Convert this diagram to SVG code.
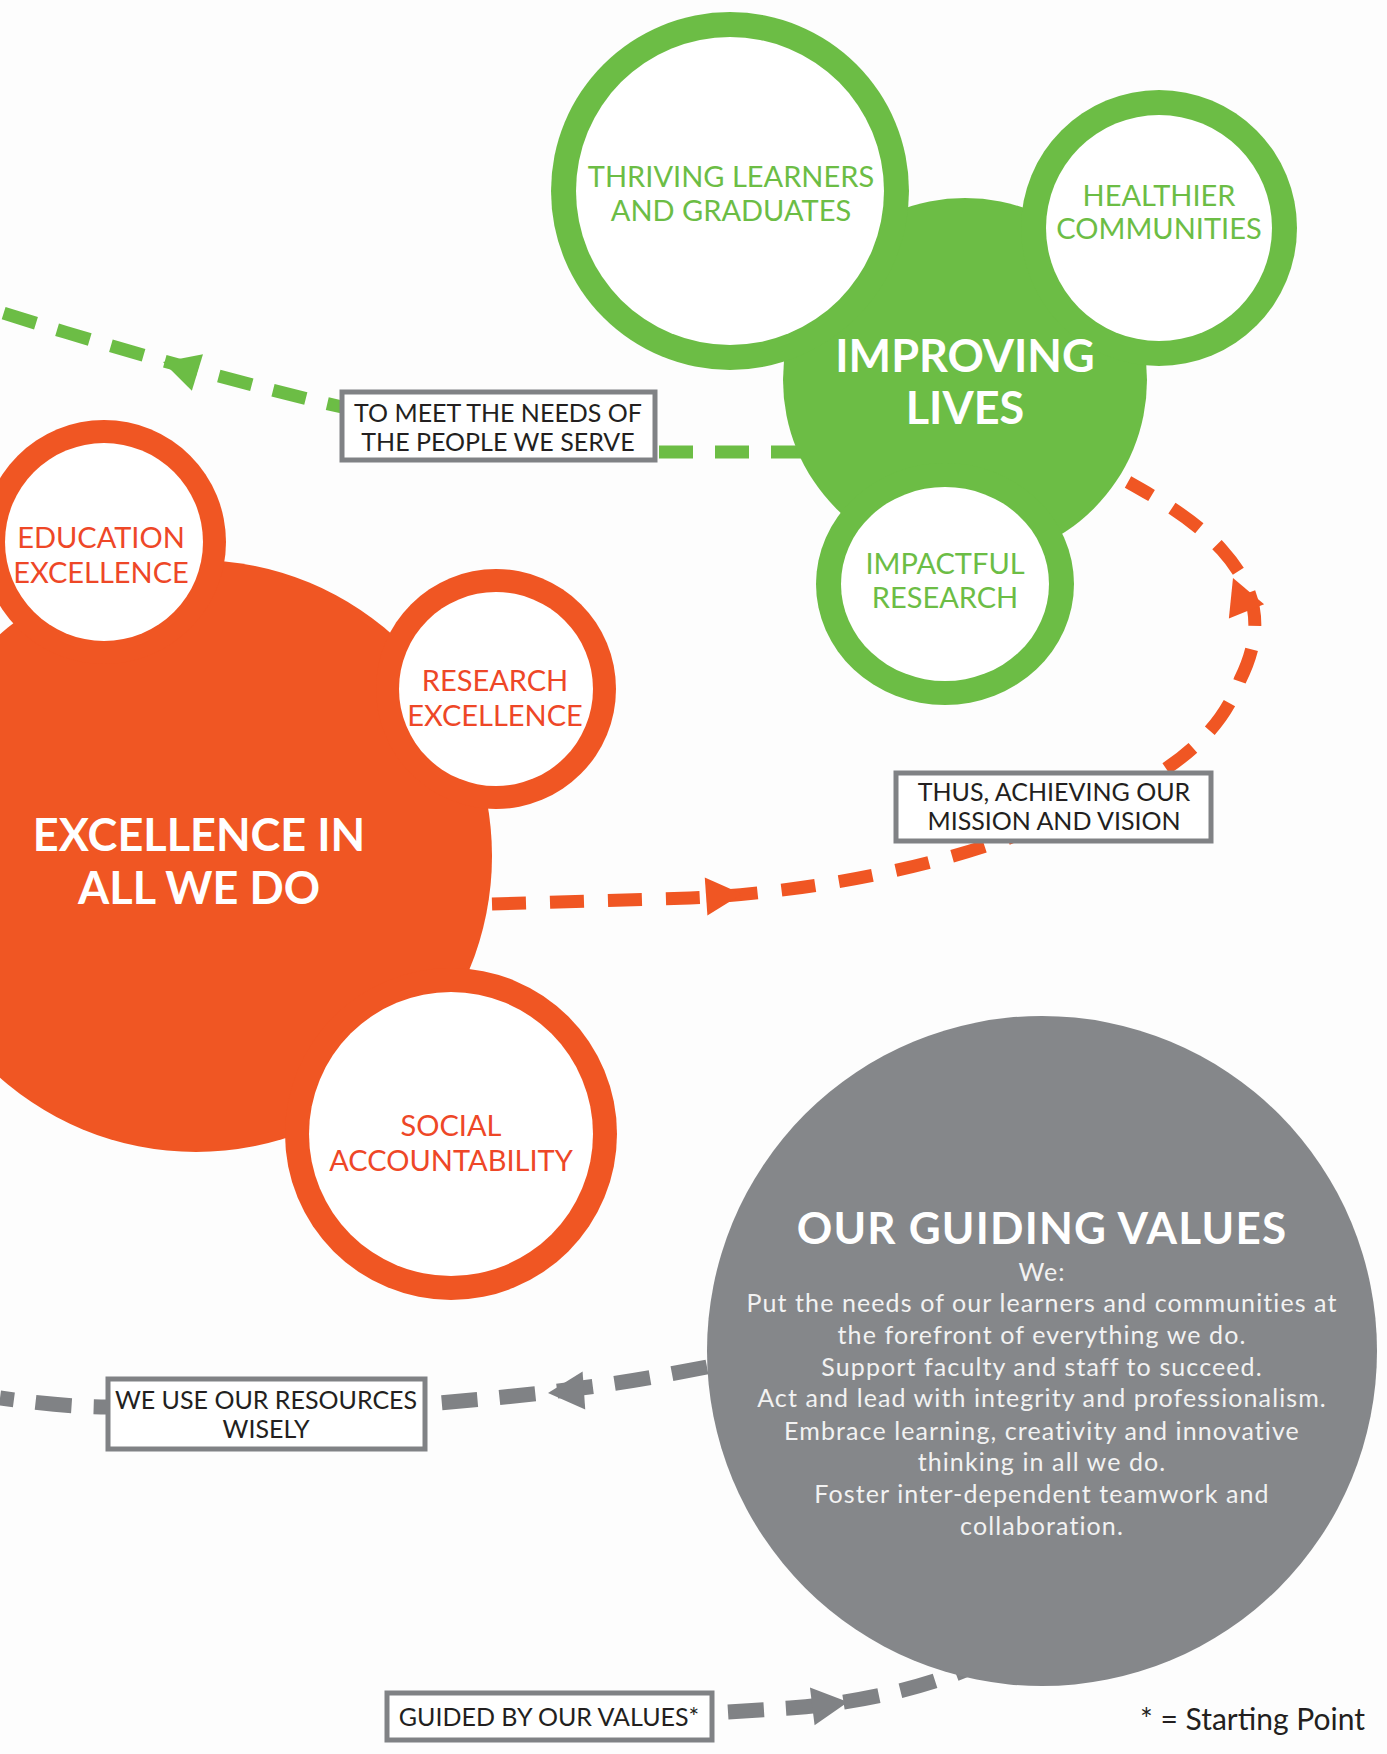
<svg xmlns="http://www.w3.org/2000/svg" xmlns:xlink="http://www.w3.org/1999/xlink" width="1387" height="1754" viewBox="0 0 1387 1754">
  <style>
    text { font-family: Lato, "Open Sans", "Liberation Sans", sans-serif; text-anchor: middle; }
    .gtxt { fill: #6cbd45; font-size: 29px; }
    .otxt { fill: #ee4727; font-size: 29px; }
    .big { fill: #ffffff; font-size: 45px; font-weight: 700; }
    .lbl { fill: #231f20; font-size: 25px; }
    .val { fill: #f2f2f2; font-size: 25px; letter-spacing: 1.1px; }
    .box { fill: #ffffff; stroke: #808285; stroke-width: 5; }
    .dash-g { fill: none; stroke: #6cbd45; stroke-width: 13; stroke-dasharray: 34 22; }
    .dash-o { fill: none; stroke: #f05623; stroke-width: 13; stroke-dasharray: 34 24; }
    .dash-k { fill: none; stroke: #808285; stroke-width: 15; stroke-dasharray: 36 22; }
  </style>
  <defs>
    <polygon id="ah" points="0,0 -36,-19 -36,19"/>
  </defs>
  <rect width="1387" height="1754" fill="#fdfdfd"/>

  <g id="connectors">
    <path class="dash-g" d="M 805 452 L 655 452 C 560 452 430 428 342 407 C 250 386 120 350 0 312"/>
    <use xlink:href="#ah" fill="#6cbd45" transform="translate(163,362) rotate(197)"/>
    <path class="dash-o" d="M 492 904 L 690 898 C 800 893 930 870 1030 830 C 1140 795 1215 750 1240 680 C 1265 630 1258 590 1222 550 C 1195 520 1160 500 1128 482"/>
    <use xlink:href="#ah" fill="#f05623" transform="translate(742,894) rotate(-4)"/>
    <use xlink:href="#ah" fill="#f05623" transform="translate(1233,578) rotate(-112)"/>
    <path class="dash-k" d="M 707 1367 C 650 1378 580 1392 425 1404 L 108 1407 C 70 1407 30 1402 0 1398"/>
    <use xlink:href="#ah" fill="#808285" transform="translate(548,1393) rotate(176)"/>
    <path class="dash-k" d="M 728 1712 L 790 1708 C 850 1704 920 1690 975 1666"/>
    <use xlink:href="#ah" fill="#808285" transform="translate(848,1702) rotate(-7)"/>
  </g>

  <g id="improving-lives">
    <circle cx="965" cy="380" r="182" fill="#6cbd45"/>
    <circle cx="730" cy="191" r="179" fill="#6cbd45"/>
    <circle cx="1159" cy="228" r="138" fill="#6cbd45"/>
    <ellipse cx="945" cy="584" rx="129" ry="121" fill="#6cbd45"/>
    <text class="big" x="965" y="372">IMPROVING</text>
    <text class="big" x="965" y="424">LIVES</text>
  </g>
  <g id="thriving-learners">
    <circle cx="730" cy="191" r="154" fill="#ffffff"/>
    <text class="gtxt" x="731" y="187">THRIVING LEARNERS</text>
    <text class="gtxt" x="731" y="221">AND GRADUATES</text>
  </g>
  <g id="healthier-communities">
    <circle cx="1159" cy="228" r="113" fill="#ffffff"/>
    <text class="gtxt" x="1159" y="206">HEALTHIER</text>
    <text class="gtxt" x="1159" y="239">COMMUNITIES</text>
  </g>
  <g id="impactful-research">
    <ellipse cx="945" cy="584" rx="104" ry="97" fill="#ffffff"/>
    <text class="gtxt" x="945" y="574">IMPACTFUL</text>
    <text class="gtxt" x="945" y="608">RESEARCH</text>
  </g>

  <g id="excellence">
    <circle cx="196" cy="856" r="296" fill="#f05623"/>
    <circle cx="104" cy="542" r="122" fill="#f05623"/>
    <circle cx="496" cy="689" r="120" fill="#f05623"/>
    <circle cx="451" cy="1134" r="166" fill="#f05623"/>
    <text class="big" x="199" y="851">EXCELLENCE IN</text>
    <text class="big" x="199" y="904">ALL WE DO</text>
  </g>
  <g id="education-excellence">
    <circle cx="104" cy="542" r="99" fill="#ffffff"/>
    <text class="otxt" x="101" y="548">EDUCATION</text>
    <text class="otxt" x="101" y="583">EXCELLENCE</text>
  </g>
  <g id="research-excellence">
    <circle cx="496" cy="689" r="97" fill="#ffffff"/>
    <text class="otxt" x="495" y="691">RESEARCH</text>
    <text class="otxt" x="495" y="726">EXCELLENCE</text>
  </g>
  <g id="social-accountability">
    <circle cx="451" cy="1134" r="142" fill="#ffffff"/>
    <text class="otxt" x="451" y="1136">SOCIAL</text>
    <text class="otxt" x="451" y="1171">ACCOUNTABILITY</text>
  </g>

  <g id="guiding-values">
    <circle cx="1042" cy="1351" r="335" fill="#85878a"/>
    <text x="1042" y="1244" fill="#ffffff" font-size="44" font-weight="700" letter-spacing="1.2">OUR GUIDING VALUES</text>
    <text class="val" x="1042" y="1281">We:</text>
    <text class="val" x="1042" y="1312">Put the needs of our learners and communities at</text>
    <text class="val" x="1042" y="1344">the forefront of everything we do.</text>
    <text class="val" x="1042" y="1376">Support faculty and staff to succeed.</text>
    <text class="val" x="1042" y="1407">Act and lead with integrity and professionalism.</text>
    <text class="val" x="1042" y="1440">Embrace learning, creativity and innovative</text>
    <text class="val" x="1042" y="1471">thinking in all we do.</text>
    <text class="val" x="1042" y="1503">Foster inter-dependent teamwork and</text>
    <text class="val" x="1042" y="1535">collaboration.</text>
  </g>

  <g id="label-meet-needs">
    <rect class="box" x="342" y="392" width="313" height="68"/>
    <text class="lbl" x="498" y="422">TO MEET THE NEEDS OF</text>
    <text class="lbl" x="498" y="451">THE PEOPLE WE SERVE</text>
  </g>
  <g id="label-mission">
    <rect class="box" x="896" y="773" width="315" height="68"/>
    <text class="lbl" x="1054" y="801">THUS, ACHIEVING OUR</text>
    <text class="lbl" x="1054" y="830">MISSION AND VISION</text>
  </g>
  <g id="label-resources">
    <rect class="box" x="108" y="1379" width="317" height="70"/>
    <text class="lbl" x="266" y="1409">WE USE OUR RESOURCES</text>
    <text class="lbl" x="266" y="1438">WISELY</text>
  </g>
  <g id="label-guided">
    <rect class="box" x="387" y="1693" width="325" height="47"/>
    <text class="lbl" x="549" y="1726">GUIDED BY OUR VALUES*</text>
  </g>
  <text x="1365" y="1730" font-size="30" fill="#231f20" style="text-anchor:end">* = Starting Point</text>
</svg>
